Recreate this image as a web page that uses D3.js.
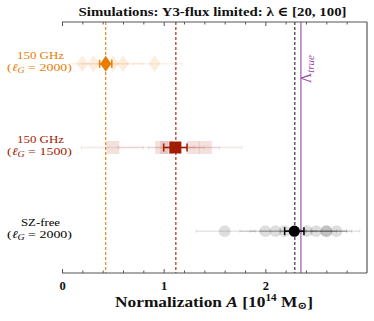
<!DOCTYPE html>
<html><head><meta charset="utf-8">
<script src="https://cdn.jsdelivr.net/npm/d3@7"></script>
<style>body{margin:0;background:#fff}svg{display:block}</style>
</head><body><svg id="c" width="374" height="321"></svg>
<script>
// ---- data ----
const rows = ["SZ-free", "150 GHz (1500)", "150 GHz (2000)"];
const rowLine1 = ["SZ-free", "150 GHz", "150 GHz"];
const rowLine2 = ["2000", "1500", "2000"];
const rowColors = ["#000000", "#a11b00", "#e87d00"];
const rowShapes = ["circle", "square", "diamond"];
const mainValues = [2.285, 1.115, 0.43];
const mainErrLo = [2.19, 1.00, 0.37];
const mainErrHi = [2.38, 1.23, 0.49];
const faintValues = [
  [1.60, 2.00, 2.10, 2.19, 2.41, 2.50, 2.60, 2.60, 2.70],
  [0.50, 0.98, 1.03, 1.29, 1.41],
  [0.20, 0.31, 0.50, 0.60, 0.91]
];
const faintErrLo = [
  [1.32, 1.75, 1.85, 1.95, 2.15, 2.25, 2.35, 2.40, 2.45],
  [0.19, 0.55, 0.85, 1.05, 1.15],
  [0.08, 0.20, 0.35, 0.45, 0.70]
];
const faintErrHi = [
  [1.90, 2.30, 2.40, 2.50, 2.70, 2.80, 2.85, 2.80, 2.93],
  [0.80, 1.40, 1.30, 1.55, 1.77],
  [0.40, 0.45, 0.65, 0.80, 1.18]
];
const refLines = [0.43, 1.12, 2.29];
const refColors = ["#e87d00", "#a11b00", "#222222"];
const trueValue = 2.35;
const xTicks = [0, 1, 2];
const xMinorTicks = [0.2,0.4,0.6,0.8,1.2,1.4,1.6,1.8,2.2,2.4,2.6,2.8];

// ---- layout ----
const svg = d3.select("#c");
const L = 62, R = 367, T = 22, B = 273;
const x = d3.scaleLinear().domain([0, 3]).range([L, R]);
const y = d3.scalePoint().domain(rows).range([B, T]).padding(0.5);
const serif = "'Liberation Serif', 'DejaVu Serif', serif";
const line1Widths = [39, 47, 47];

// reference lines
refLines.forEach((v, i) => {
  svg.append("line").attr("x1", x(v)).attr("x2", x(v)).attr("y1", T).attr("y2", B)
    .attr("stroke", refColors[i]).attr("stroke-width", 1.1).attr("stroke-dasharray", "3,2");
});
svg.append("line").attr("x1", x(trueValue)).attr("x2", x(trueValue)).attr("y1", T).attr("y2", B)
  .attr("stroke", "#9b45a8").attr("stroke-width", 1.1);

// marker path helper
function shapePath(shape, big) {
  if (shape === "circle") return d3.symbol(d3.symbolCircle, big ? 100 : 110)();
  if (shape === "square") { const s = big ? 6 : 6.5; return `M${-s},${-s}H${s}V${s}H${-s}Z`; }
  const w = big ? 5.5 : 6, h = big ? 8 : 8.5;
  return `M0,${-h}L${w},0L0,${h}L${-w},0Z`;
}

rows.forEach((r, i) => {
  const cy = y(r), col = rowColors[i];
  // faint samples
  faintValues[i].forEach((v, j) => {
    svg.append("line").attr("x1", x(faintErrLo[i][j])).attr("x2", x(faintErrHi[i][j]))
      .attr("y1", cy).attr("y2", cy).attr("stroke", col).attr("stroke-opacity", 0.1).attr("stroke-width", 1.5);
    [faintErrLo[i][j], faintErrHi[i][j]].forEach(e => {
      svg.append("line").attr("x1", x(e)).attr("x2", x(e)).attr("y1", cy - 2).attr("y2", cy + 2)
        .attr("stroke", col).attr("stroke-opacity", 0.1).attr("stroke-width", 1);
    });
    svg.append("path").attr("d", shapePath(rowShapes[i], false))
      .attr("transform", `translate(${x(v)},${cy})`).attr("fill", col).attr("fill-opacity", 0.13);
  });
  // main
  svg.append("line").attr("x1", x(mainErrLo[i])).attr("x2", x(mainErrHi[i]))
    .attr("y1", cy).attr("y2", cy).attr("stroke", col).attr("stroke-width", 1.5);
  [mainErrLo[i], mainErrHi[i]].forEach(e => {
    svg.append("line").attr("x1", x(e)).attr("x2", x(e)).attr("y1", cy - 4).attr("y2", cy + 4)
      .attr("stroke", col).attr("stroke-width", 1.5);
  });
  svg.append("path").attr("d", shapePath(rowShapes[i], true))
    .attr("transform", `translate(${x(mainValues[i])},${cy})`).attr("fill", col);

  // y labels
  const g = svg.append("g").attr("fill", col).attr("font-family", serif).attr("font-size", 10.5)
    .attr("text-anchor", "middle");
  g.append("text").attr("x", 40.5).attr("y", cy - 5)
    .attr("textLength", line1Widths[i]).attr("lengthAdjust", "spacingAndGlyphs").text(rowLine1[i]);
  const t2 = g.append("text").attr("x", 39.5).attr("y", cy + 7)
    .attr("textLength", 65).attr("lengthAdjust", "spacingAndGlyphs");
  t2.append("tspan").text("(");
  t2.append("tspan").attr("font-style", "italic").text("ℓ");
  t2.append("tspan").attr("font-style", "italic").attr("font-size", 7.5).attr("dy", 2).text("G");
  t2.append("tspan").attr("dy", -2).text(" = " + rowLine2[i] + ")");
});

// Λ_true label
const lt = svg.append("text").attr("transform", `translate(${x(trueValue) + 10},${69}) rotate(-90)`)
  .attr("text-anchor", "middle").attr("fill", "#9b45a8").attr("font-family", serif).attr("font-size", 14);
lt.append("tspan").text("Λ");
lt.append("tspan").attr("font-style", "italic").attr("font-size", 11).attr("dy", 3).text("true");

// axes frame
const ax = "#555";
svg.append("line").attr("x1", L).attr("x2", R).attr("y1", B).attr("y2", B).attr("stroke", ax).attr("stroke-width", 1.2);
svg.append("line").attr("x1", L).attr("x2", R).attr("y1", T).attr("y2", T).attr("stroke", ax).attr("stroke-width", 1.2);
svg.append("line").attr("x1", R).attr("x2", R).attr("y1", T).attr("y2", B).attr("stroke", ax).attr("stroke-width", 1.2);

const bottomAx = svg.append("g").attr("transform", `translate(0,${B})`)
  .call(d3.axisBottom(x).tickValues(xTicks).tickSizeInner(-4).tickSizeOuter(0).tickPadding(8).tickFormat(d3.format("d")));
bottomAx.select(".domain").remove();
bottomAx.selectAll("line").attr("stroke", ax).attr("stroke-width", 1);
bottomAx.selectAll("text").attr("font-family", serif).attr("font-size", 12.5).attr("font-weight", "bold").attr("fill", "#111");
const bMinor = svg.append("g").attr("transform", `translate(0,${B})`)
  .call(d3.axisBottom(x).tickValues(xMinorTicks).tickSizeInner(-2.5).tickSizeOuter(0).tickFormat(""));
bMinor.select(".domain").remove();
bMinor.selectAll("line").attr("stroke", ax);
const topAx = svg.append("g").attr("transform", `translate(0,${T})`)
  .call(d3.axisTop(x).tickValues(xTicks).tickSizeInner(-4).tickSizeOuter(0).tickFormat(""));
topAx.select(".domain").remove();
topAx.selectAll("line").attr("stroke", ax);
const tMinor = svg.append("g").attr("transform", `translate(0,${T})`)
  .call(d3.axisTop(x).tickValues(xMinorTicks).tickSizeInner(-2.5).tickSizeOuter(0).tickFormat(""));
tMinor.select(".domain").remove();
tMinor.selectAll("line").attr("stroke", ax);

// title
svg.append("text").attr("x", 212.5).attr("y", 16).attr("text-anchor", "middle")
  .attr("font-family", serif).attr("font-size", 13).attr("font-weight", "bold").attr("fill", "#111")
  .attr("textLength", 268).attr("lengthAdjust", "spacingAndGlyphs")
  .text("Simulations:  Y3-flux limited:  λ ∈ [20, 100]");

// x label
const xl = svg.append("text").attr("x", 214).attr("y", 307).attr("text-anchor", "middle")
  .attr("font-family", serif).attr("font-size", 15.5).attr("font-weight", "bold").attr("fill", "#111")
  .attr("textLength", 198).attr("lengthAdjust", "spacingAndGlyphs");
xl.append("tspan").text("Normalization ");
xl.append("tspan").attr("font-style", "italic").text("A");
xl.append("tspan").text(" [10");
xl.append("tspan").attr("font-size", 10).attr("dy", -6).text("14");
xl.append("tspan").attr("dy", 6).text(" M");
xl.append("tspan").attr("font-size", 10.5).attr("dy", 2).text("⊙");
xl.append("tspan").attr("dy", -2).text("]");
</script></body></html>
